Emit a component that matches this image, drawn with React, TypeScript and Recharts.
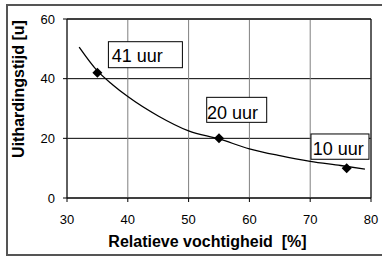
import { ComposedChart, Line, Scatter, XAxis, YAxis, CartesianGrid, ReferenceLine } from "recharts";

// measured points (relative humidity %, curing time in hours)
const humidity = [35, 55, 76];
const curingTime = [42, 20, 10];
const pointLabels = ["41 uur", "20 uur", "10 uur"];

// trend curve
const trendX = [32, 35, 37.5, 40, 45, 50, 55, 60, 65, 70, 75, 79];
const trendY = [50.6, 42.6, 38, 34, 27.5, 22.5, 19.8, 16.5, 14.2, 12.3, 10.9, 9.7];

const xTicks = [30, 40, 50, 60, 70, 80];
const yTicks = [0, 20, 40, 60];

const points = humidity.map((x, i) => ({ x, y: curingTime[i], label: pointLabels[i] }));
const trend = trendX.map((x, i) => ({ x, y: trendY[i] }));

const FONT = "'Liberation Sans', Arial, sans-serif";

// label box placement relative to the marker centre
const LABEL_BOXES = [
  { dx: 11, dy: -31, w: 74, h: 26, tx: 3.4, ty: 20 },
  { dx: -12.3, dy: -41, w: 60, h: 25, tx: 0.3, ty: 21.7 },
  { dx: -35.7, dy: -34.2, w: 58, h: 25.3, tx: 1.7, ty: 21 },
];

function Diamond(props: any) {
  const { cx, cy } = props;
  const r = 5;
  return (
    <polygon
      points={`${cx},${cy - r} ${cx + r},${cy} ${cx},${cy + r} ${cx - r},${cy}`}
      fill="#000"
    />
  );
}

function LabelBox(props: any) {
  const { cx, cy, index, payload } = props;
  const b = LABEL_BOXES[index];
  const left = cx + b.dx;
  const top = cy + b.dy;
  return (
    <g>
      <rect x={left} y={top} width={b.w} height={b.h} fill="#fff" stroke="#000" strokeWidth={1} />
      <text x={left + b.tx} y={top + b.ty} fontSize={18} fontFamily={FONT} fill="#000">
        {payload.label}
      </text>
    </g>
  );
}

export default function App() {
  return (
    <div style={{ position: "fixed", left: 0, top: 0, width: 382, height: 257, background: "#fff", overflow: "hidden" }}>
      <div
        style={{
          position: "absolute",
          left: 6,
          top: 4,
          width: 400,
          height: 252,
          border: "2px solid #555",
          boxSizing: "border-box",
        }}
      />
      <div style={{ position: "absolute", left: 0, top: 0 }}>
        <ComposedChart width={382} height={257} margin={{ top: 19, right: 11, left: 0, bottom: 0 }}>
          <CartesianGrid horizontalFill={[]} stroke="#000" vertical={false} />
          <CartesianGrid stroke="#808080" horizontal={false} />
          <XAxis
            type="number"
            dataKey="x"
            domain={[30, 80]}
            ticks={xTicks}
            height={59}
            tickSize={4}
            tickMargin={13}
            axisLine={{ stroke: "#000" }}
            tickLine={{ stroke: "#000" }}
            tick={{ fill: "#000", fontSize: 13, fontFamily: FONT }}
            allowDataOverflow
            label={{
              content: ({ viewBox }: any) => (
                <text
                  x={viewBox.x + viewBox.width / 2 - 11.5}
                  y={viewBox.y + 48.7}
                  textAnchor="middle"
                  fontSize={16}
                  fontWeight="bold"
                  fontFamily={FONT}
                  fill="#000"
                >
                  Relatieve vochtigheid{"\u00a0\u00a0"}[%]
                </text>
              ),
            }}
          />
          <YAxis
            type="number"
            dataKey="y"
            domain={[0, 60]}
            ticks={yTicks}
            width={67}
            tickSize={4}
            tickMargin={8}
            axisLine={{ stroke: "#000" }}
            tickLine={{ stroke: "#000" }}
            tick={{ fill: "#000", fontSize: 13, fontFamily: FONT }}
            allowDataOverflow
            label={{
              content: ({ viewBox }: any) => {
                const cx = 18;
                const cy = viewBox.y + viewBox.height / 2 - 19.5;
                return (
                  <text
                    x={cx}
                    y={cy}
                    transform={`rotate(-90 ${cx} ${cy})`}
                    textAnchor="middle"
                    dominantBaseline="central"
                    fontSize={16}
                    fontWeight="bold"
                    fontFamily={FONT}
                    fill="#000"
                  >
                    Uithardingstijd [u]
                  </text>
                );
              },
            }}
          />
          <ReferenceLine x={80} stroke="#000" />
          <ReferenceLine y={60} stroke="#000" />
          <Line
            data={trend}
            dataKey="y"
            type="monotone"
            stroke="#000"
            strokeWidth={1.3}
            dot={false}
            activeDot={false}
            isAnimationActive={false}
          />
          <Scatter data={points} dataKey="y" shape={Diamond} isAnimationActive={false} />
          <Scatter data={points} dataKey="y" shape={LabelBox} isAnimationActive={false} />
        </ComposedChart>
      </div>
    </div>
  );
}
